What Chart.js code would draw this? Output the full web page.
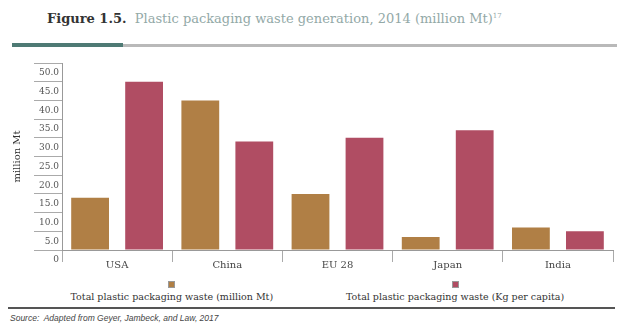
<!DOCTYPE html>
<html>
<head>
<meta charset="utf-8">
<script src="https://cdn.jsdelivr.net/npm/chart.js@4/dist/chart.umd.min.js"></script>
<style>
  body { margin: 0; width: 621px; height: 327px; background: #fff; position: relative; overflow: hidden; font-family: "DejaVu Serif", serif; }
  #title { position: absolute; left: 47px; top: 11px; font-size: 13px; white-space: nowrap; }
  #title b { color: #333; }
  #title span { color: #93a9a7; }
  #title sup { font-size: 7px; }
  #bar-dark { position: absolute; left: 12px; top: 43px; width: 111px; height: 4px; background: #4e7a74; }
  #bar-light { position: absolute; left: 123px; top: 44px; width: 494px; height: 3px; background: #b9b9b9; }
  #wrap { position: absolute; left: 0; top: 50px; width: 621px; height: 225px; }
  #legend { position: absolute; left: 0; top: 281px; width: 621px; height: 22px; }
  .item { position: absolute; text-align: center; font-size: 9.5px; color: #333; white-space: nowrap; }
  .sw { display: block; margin: 0 auto 3px; width: 5px; height: 5px; border: 1px solid #999; }
  #rule { position: absolute; left: 8px; top: 307px; width: 607px; height: 2px; background: #555; }
  #source { position: absolute; left: 10px; top: 313px; font-size: 8.5px; font-style: italic; color: #444; font-family: "Liberation Sans", sans-serif; }
</style>
</head>
<body>
<div id="title"><b>Figure 1.5.</b>&nbsp; <span>Plastic packaging waste generation, 2014 (million Mt)<sup>17</sup></span></div>
<div id="bar-dark"></div><div id="bar-light"></div>
<div id="wrap"><canvas id="chart"></canvas></div>
<div id="legend"></div>
<div id="rule"></div>
<div id="source">Source:&nbsp; Adapted from Geyer, Jambeck, and Law, 2017</div>
<script>
const categories = ["USA", "China", "EU 28", "Japan", "India"];
const wasteMt = [14, 40, 15, 3.5, 6];
const wastePerCapita = [45, 29, 30, 32, 5];
const seriesLabels = ["Total plastic packaging waste (million Mt)", "Total plastic packaging waste (Kg per capita)"];
const seriesColors = ["#b07f45", "#b04d63"];
const legendCenters = [172, 455];

const serif = "'DejaVu Serif', serif";

new Chart(document.getElementById("chart"), {
  type: "bar",
  data: {
    labels: categories,
    datasets: [
      { label: seriesLabels[0], data: wasteMt, backgroundColor: seriesColors[0] },
      { label: seriesLabels[1], data: wastePerCapita, backgroundColor: seriesColors[1] }
    ]
  },
  options: {
    responsive: true,
    maintainAspectRatio: false,
    animation: false,
    layout: { padding: { top: 13, right: 8, left: 0, bottom: 0 } },
    datasets: { bar: { categoryPercentage: 0.98, barPercentage: 0.7 } },
    plugins: { legend: { display: false }, tooltip: { enabled: false } },
    scales: {
      x: {
        grid: { offset: true, drawOnChartArea: false, tickLength: 12, color: "#aaa" },
        border: { color: "#999" },
        ticks: { padding: -3, color: "#444", font: { family: serif, size: 10 } },
        afterFit(scale) { scale.height = 25; }
      },
      y: {
        min: 0,
        max: 50,
        ticks: {
          stepSize: 5,
          labelOffset: 10,
          padding: -25,
          color: "#555",
          font: { family: serif, size: 9 },
          callback: v => v === 0 ? "0" : v.toFixed(1)
        },
        grid: { drawOnChartArea: false, tickLength: 28, color: "#aaa" },
        border: { color: "#999" },
        title: { display: true, text: "million Mt", color: "#333", font: { family: serif, size: 10 }, padding: { top: 11, bottom: 0 } },
        afterFit(scale) { scale.width = 62; }
      }
    }
  }
});

const legend = document.getElementById("legend");
seriesLabels.forEach((label, i) => {
  const item = document.createElement("div");
  item.className = "item";
  item.innerHTML = `<span class="sw" style="background:${seriesColors[i]}"></span>${label}`;
  legend.appendChild(item);
  item.style.left = (legendCenters[i] - item.offsetWidth / 2) + "px";
});
</script>
</body>
</html>
